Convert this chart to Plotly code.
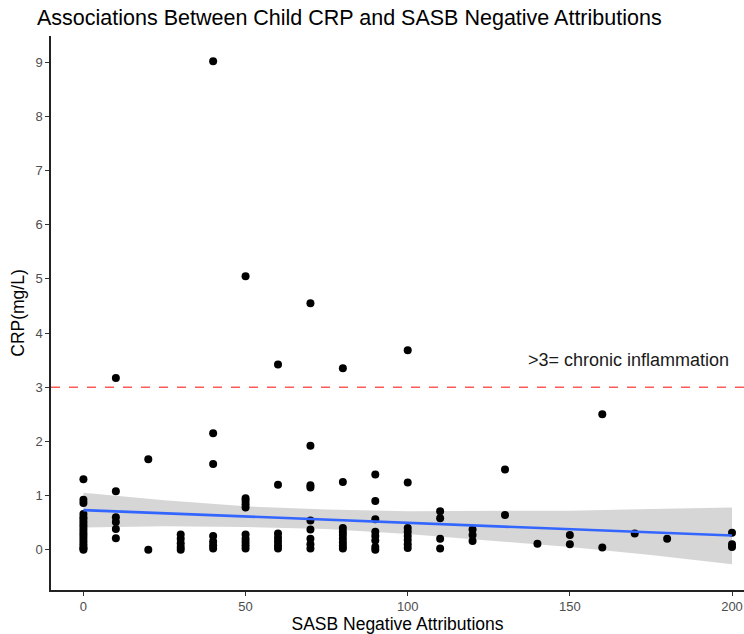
import plotly.graph_objects as go

# SASB negative attribution scores and child CRP (mg/L)
sasb = (
    [0] * 18 + [10] * 6 + [20] * 2 + [30] * 5 + [40] * 7 + [50] * 10 + [60] * 7
    + [70] * 9 + [80] * 9 + [90] * 8 + [100] * 8 + [110] * 4 + [120] * 3
    + [130] * 2 + [140] + [150] * 2 + [160] * 2 + [170] + [180] + [200] * 3
)
crp = [
    # 0
    1.30, 0.92, 0.86, 0.66, 0.60, 0.55, 0.50, 0.45, 0.40, 0.35, 0.30, 0.25, 0.20, 0.15, 0.10, 0.05, 0.02, 0.00,
    # 10
    3.17, 1.08, 0.60, 0.51, 0.38, 0.21,
    # 20
    1.67, 0.00,
    # 30
    0.28, 0.20, 0.12, 0.05, 0.00,
    # 40
    9.02, 2.15, 1.58, 0.25, 0.15, 0.08, 0.02,
    # 50
    5.05, 0.95, 0.90, 0.84, 0.78, 0.28, 0.20, 0.14, 0.08, 0.02,
    # 60
    3.42, 1.20, 0.30, 0.22, 0.15, 0.08, 0.02,
    # 70
    4.55, 1.92, 1.19, 1.15, 0.54, 0.37, 0.20, 0.10, 0.02,
    # 80
    3.35, 1.25, 0.40, 0.33, 0.27, 0.20, 0.13, 0.07, 0.02,
    # 90
    1.39, 0.90, 0.56, 0.33, 0.25, 0.17, 0.05, 0.00,
    # 100
    3.68, 1.24, 0.40, 0.33, 0.25, 0.18, 0.10, 0.03,
    # 110
    0.71, 0.58, 0.20, 0.02,
    # 120
    0.37, 0.27, 0.16,
    # 130
    1.48, 0.64,
    # 140
    0.11,
    # 150
    0.27, 0.10,
    # 160
    2.50, 0.04,
    # 170
    0.30,
    # 180
    0.20,
    # 200
    0.31, 0.10, 0.05,
]

# Linear fit with 95% confidence band
fit_x = [0, 25, 50, 75, 100, 125, 150, 175, 200]
fit_y = [0.73, 0.672, 0.615, 0.557, 0.50, 0.442, 0.385, 0.327, 0.26]
fit_hi = [1.05, 0.91, 0.80, 0.74, 0.71, 0.71, 0.72, 0.75, 0.78]
fit_lo = [0.41, 0.43, 0.42, 0.38, 0.29, 0.17, 0.05, -0.10, -0.27]

threshold = 3
threshold_label = ">3= chronic inflammation"

x_ticks = [0, 50, 100, 150, 200]
y_ticks = [0, 1, 2, 3, 4, 5, 6, 7, 8, 9]

FONT = "Liberation Sans, Arial, sans-serif"

fig = go.Figure()

fig.add_trace(go.Scatter(
    x=fit_x + fit_x[::-1],
    y=fit_hi + fit_lo[::-1],
    mode="lines",
    fill="toself",
    fillcolor="rgba(153,153,153,0.4)",
    line=dict(width=0),
    hoverinfo="skip",
    showlegend=False,
))

fig.add_trace(go.Scatter(
    x=sasb, y=crp, mode="markers",
    marker=dict(color="black", size=8, line=dict(width=0)),
    showlegend=False,
))

fig.add_trace(go.Scatter(
    x=fit_x, y=fit_y, mode="lines",
    line=dict(color="#3366FF", width=2.6),
    showlegend=False,
))

fig.add_hline(y=threshold, line=dict(color="#ff5a5a", width=1.6, dash="dash"))

fig.add_annotation(
    x=168, y=3.5, text=threshold_label, showarrow=False,
    font=dict(family=FONT, size=18, color="#1a1a1a"),
)

fig.update_layout(
    width=744, height=634,
    margin=dict(l=51, r=0, t=36, b=44),
    plot_bgcolor="white", paper_bgcolor="white",
    font=dict(family=FONT),
    title=dict(
        text="Associations Between Child CRP and SASB Negative Attributions",
        x=37 / 744, xanchor="left", y=1 - 17 / 634, yanchor="middle",
        font=dict(family=FONT, size=21.5, color="black"),
    ),
)

fig.update_xaxes(
    range=[-10, 203.7], tickvals=x_ticks, showgrid=False, zeroline=False,
    showline=True, linecolor="#222222", linewidth=1.5,
    ticks="outside", ticklen=4, tickcolor="#333333", tickwidth=1,
    tickfont=dict(family=FONT, size=13, color="#4d4d4d"),
    title=dict(text="SASB Negative Attributions", standoff=4,
               font=dict(family=FONT, size=17.5, color="black")),
)
fig.update_yaxes(
    range=[-0.745, 9.485], tickvals=y_ticks, showgrid=False, zeroline=False,
    showline=True, linecolor="#222222", linewidth=1.5,
    ticks="outside", ticklen=4, tickcolor="#333333", tickwidth=1,
    tickfont=dict(family=FONT, size=13, color="#4d4d4d"),
    title=dict(text="CRP(mg/L)", standoff=6,
               font=dict(family=FONT, size=17.5, color="black")),
)

fig.write_html("out.html")
